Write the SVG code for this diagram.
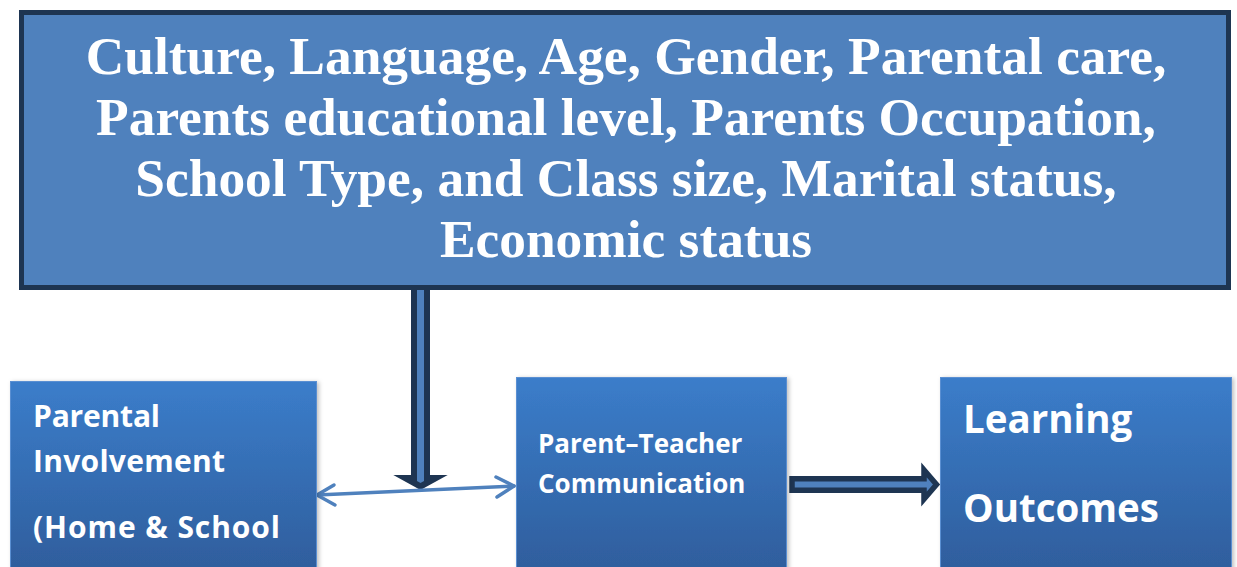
<svg xmlns="http://www.w3.org/2000/svg" width="1237" height="567" viewBox="0 0 1237 567">
  <style>
    .top-text { font-family: "Liberation Serif", "Times New Roman", serif; font-weight: bold; font-size: 53.4px; fill: #ffffff; text-anchor: middle; }
    .box-text { font-family: "Open Sans", "Noto Sans", sans-serif; font-weight: bold; fill: #ffffff; }
    .box { fill: url(#boxGrad); stroke: #5a8fd2; stroke-width: 1; filter: url(#shadow); }
    .block-arrow { fill: #4f81bd; stroke: #1e3552; stroke-linejoin: miter; stroke-miterlimit: 10; }
    .thin-arrow { fill: none; stroke: #4f81bd; stroke-width: 3.5; stroke-linecap: round; stroke-linejoin: round; }
  </style>
  <defs>
    <linearGradient id="boxGrad" x1="0" y1="0" x2="0" y2="1">
      <stop offset="0" stop-color="#3b7dca"/>
      <stop offset="1" stop-color="#2e5c9a"/>
    </linearGradient>
    <filter id="shadow" x="-5%" y="-5%" width="115%" height="115%">
      <feDropShadow dx="2" dy="1" stdDeviation="2" flood-color="#000000" flood-opacity="0.25"/>
    </filter>
  </defs>

  <g id="connectors">
    <polygon class="block-arrow" stroke-width="6" points="414,286 427,286 427,478 436,478 420.5,486.5 405,478 414,478"/>
    <path class="thin-arrow" d="M317,495 L514,486"/>
    <path class="thin-arrow" d="M496,477 L514,486 L497,497"/>
    <path class="thin-arrow" d="M334,485 L317,495 L335,505"/>
    <polygon class="block-arrow" stroke-width="5.5" points="792,478.75 924,478.75 924,470 936.5,484.5 924,499 924,490.25 792,490.25"/>
  </g>

  <g id="node-factors">
    <rect x="21.5" y="12.5" width="1207" height="275" fill="#4f81bd" stroke="#1e3552" stroke-width="5"/>
    <text class="top-text" x="626" y="74">Culture, Language, Age, Gender, Parental care,</text>
    <text class="top-text" x="626" y="135">Parents educational level, Parents Occupation,</text>
    <text class="top-text" x="626" y="196">School Type, and Class size, Marital status,</text>
    <text class="top-text" x="626" y="257">Economic status</text>
  </g>

  <g id="node-parental-involvement">
    <rect class="box" x="10.5" y="381.5" width="306" height="200"/>
    <text class="box-text" font-size="30" x="33" y="427" textLength="127">Parental</text>
    <text class="box-text" font-size="30" x="33" y="472" textLength="192">Involvement</text>
    <text class="box-text" font-size="30" x="33" y="538" textLength="247">(Home &amp; School</text>
  </g>

  <g id="node-communication">
    <rect class="box" x="516.5" y="377.5" width="270" height="204"/>
    <text class="box-text" font-size="26" x="538" y="453">Parent–Teacher</text>
    <text class="box-text" font-size="26" x="538" y="493">Communication</text>
  </g>

  <g id="node-outcomes">
    <rect class="box" x="940.5" y="377.5" width="291" height="204"/>
    <text class="box-text" font-size="38.5" x="963" y="433">Learning</text>
    <text class="box-text" font-size="38.5" x="963" y="522">Outcomes</text>
  </g>
</svg>
